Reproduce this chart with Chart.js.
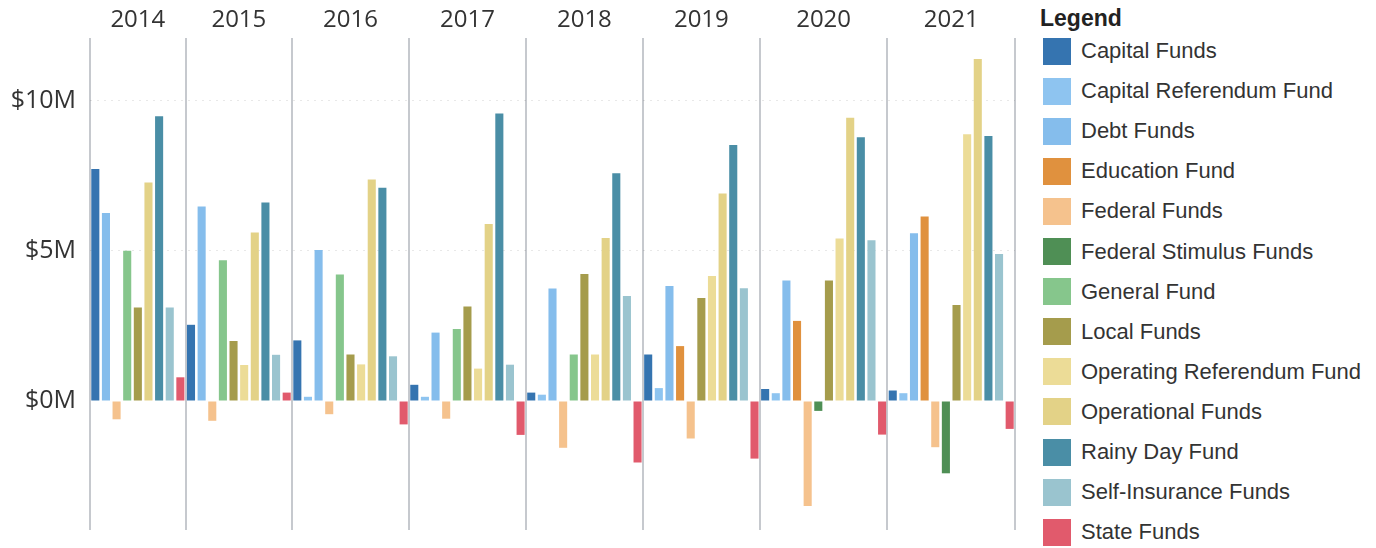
<!DOCTYPE html>
<html>
<head>
<meta charset="utf-8">
<script src="https://cdn.jsdelivr.net/npm/chart.js@4.4.1/dist/chart.umd.min.js"></script>
<style>
  body { margin: 0; background: #fff; }
  #wrap { position: relative; width: 1376px; height: 548px; }
  #chartBox { position: absolute; left: 0; top: 0; width: 1025px; height: 548px; }
  #legend { position: absolute; left: 1040px; top: 0; width: 336px; height: 548px;
            font-family: "Liberation Sans", Arial, sans-serif; color: #333; }
  #legend .title { position: absolute; left: 0; top: 5px; font-size: 23px; font-weight: bold; color: #222; }
  #legend .item { position: absolute; left: 3px; height: 28px; display: flex; align-items: center; font-size: 22px; white-space: nowrap; }
  #legend .sw { width: 28px; height: 27px; margin-right: 10px; }
</style>
</head>
<body>
<div id="wrap">
  <div id="chartBox"><canvas id="grafico"></canvas></div>
  <div id="legend"><div class="title">Legend</div></div>
</div>
<script>
// values in $M, one entry per year (null = no bar that year)
const years = ["2014", "2015", "2016", "2017", "2018", "2019", "2020", "2021"];

const capitalFunds = [7.73, 2.54, 2.02, 0.54, 0.28, 1.55, 0.40, 0.35];
const capitalReferendumFund = [null, null, 0.14, 0.14, 0.21, 0.43, 0.26, 0.26];
const debtFunds = [6.27, 6.48, 5.03, 2.28, 3.75, 3.83, 4.02, 5.59];
const educationFund = [null, null, null, null, null, 1.83, 2.67, 6.15];
const federalFunds = [-0.61, -0.66, -0.44, -0.59, -1.56, -1.25, -3.5, -1.54];
const federalStimulusFunds = [null, null, null, null, null, null, -0.33, -2.41];
const generalFund = [5.01, 4.69, 4.22, 2.40, 1.55, null, null, null];
const localFunds = [3.12, 2.00, 1.55, 3.15, 4.23, 3.43, 4.02, 3.20];
const operatingReferendumFund = [null, 1.20, 1.22, 1.08, 1.55, 4.17, 5.42, 8.89];
const operationalFunds = [7.28, 5.62, 7.38, 5.90, 5.43, 6.92, 9.44, 11.4];
const rainyDayFund = [9.49, 6.62, 7.11, 9.58, 7.59, 8.53, 8.79, 8.83];
const selfInsuranceFunds = [3.12, 1.54, 1.49, 1.21, 3.50, 3.76, 5.36, 4.90];
const stateFunds = [0.79, 0.28, -0.78, -1.13, -2.05, -1.92, -1.12, -0.93];

const yTicks = [0, 5, 10];

const series = [
  { label: "Capital Funds", data: capitalFunds, color: "#3574b0" },
  { label: "Capital Referendum Fund", data: capitalReferendumFund, color: "#8ec4f0" },
  { label: "Debt Funds", data: debtFunds, color: "#85bdec" },
  { label: "Education Fund", data: educationFund, color: "#e0913e" },
  { label: "Federal Funds", data: federalFunds, color: "#f5c28d" },
  { label: "Federal Stimulus Funds", data: federalStimulusFunds, color: "#4f8f55" },
  { label: "General Fund", data: generalFund, color: "#86c68c" },
  { label: "Local Funds", data: localFunds, color: "#a59c4c" },
  { label: "Operating Referendum Fund", data: operatingReferendumFund, color: "#ecdc97" },
  { label: "Operational Funds", data: operationalFunds, color: "#e3d287" },
  { label: "Rainy Day Fund", data: rainyDayFund, color: "#4a8ea6" },
  { label: "Self-Insurance Funds", data: selfInsuranceFunds, color: "#9ac4cf" },
  { label: "State Funds", data: stateFunds, color: "#e15a6c" },
];

// one category per bar actually present, grouped by year
const labels = [];
const slots = [];
years.forEach((y, yi) => {
  series.forEach((s, si) => {
    if (s.data[yi] !== null) {
      labels.push(y + " " + s.label);
      slots.push({ year: yi, serie: si });
    }
  });
});

const datasets = series.map((s, si) => ({
  label: s.label,
  data: slots.map(p => (p.serie === si ? s.data[p.year] : null)),
  backgroundColor: s.color,
  borderWidth: 0,
}));

function isYearStart(i) {
  return i === 0 || slots[i].year !== slots[i - 1].year;
}

const anoLabels = {
  id: "anoLabels",
  afterDraw(chart) {
    const x = chart.scales.x;
    const ctx = chart.ctx;
    ctx.save();
    ctx.font = '24px "Open Sans"';
    ctx.fillStyle = "#333";
    ctx.textAlign = "center";
    ctx.textBaseline = "middle";
    years.forEach((y, yi) => {
      const idx = slots.map((p, i) => (p.year === yi ? i : -1)).filter(i => i >= 0);
      const mid = (x.getPixelForValue(idx[0]) + x.getPixelForValue(idx[idx.length - 1])) / 2;
      ctx.fillText(y, mid, 20);
    });
    ctx.restore();
  },
};

new Chart(document.getElementById("grafico"), {
  type: "bar",
  data: { labels: labels, datasets: datasets },
  plugins: [anoLabels],
  options: {
    responsive: true,
    maintainAspectRatio: false,
    animation: false,
    layout: { padding: { top: 38, bottom: 18, left: 0, right: 10 } },
    datasets: { bar: { grouped: false, barPercentage: 0.76, categoryPercentage: 1 } },
    plugins: { legend: { display: false }, tooltip: { enabled: false } },
    scales: {
      x: {
        offset: true,
        afterFit(scale) { scale.height = 0; },
        border: { display: false },
        ticks: { display: false, autoSkip: false },
        grid: {
          offset: true,
          drawTicks: false,
          lineWidth: 2,
          color: c => (c.index === undefined || isYearStart(c.index) ? "#c6c9ce" : "rgba(0,0,0,0)"),
        },
      },
      y: {
        min: -4.3,
        max: 12.1,
        afterFit(scale) {
          scale.width = 90;
          scale.paddingTop = 0;
          scale.paddingBottom = 0;
        },
        border: { display: false, dash: [2, 5] },
        ticks: {
          stepSize: 5,
          includeBounds: false,
          padding: 14,
          color: "#333",
          font: { family: "Open Sans", size: 25 },
          callback: v => (yTicks.includes(v) ? "$" + v + "M" : ""),
        },
        grid: {
          drawTicks: false,
          color: c => (c.tick && c.tick.value > 0 && yTicks.includes(c.tick.value) ? "rgba(0,0,0,0.09)" : "rgba(0,0,0,0)"),
        },
      },
    },
  },
});

// legend on the right
const legend = document.getElementById("legend");
series.forEach((s, i) => {
  const row = document.createElement("div");
  row.className = "item";
  row.style.top = (37 + i * 40.1) + "px";
  row.innerHTML = '<span class="sw" style="background:' + s.color + '"></span>' + s.label;
  legend.appendChild(row);
});
</script>
</body>
</html>
